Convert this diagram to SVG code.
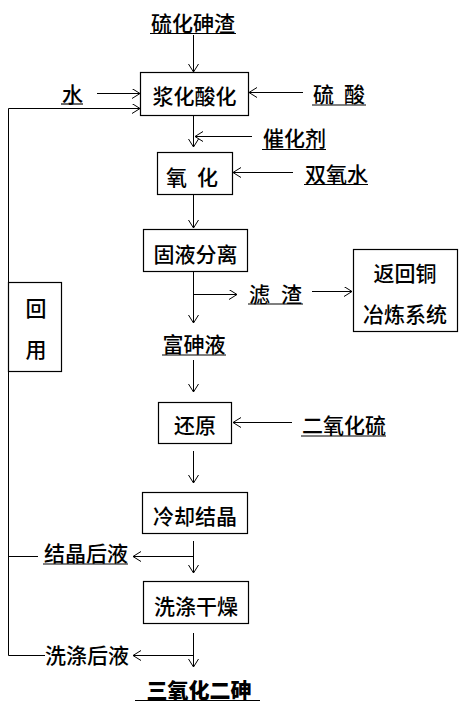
<svg xmlns="http://www.w3.org/2000/svg" width="464" height="707" viewBox="0 0 464 707">
<defs>
<marker id="ah" markerUnits="userSpaceOnUse" markerWidth="12" markerHeight="12" refX="8" refY="5" orient="auto">
<path d="M0,0 L8,5 L0,10" fill="none" stroke="#000" stroke-width="1"/>
</marker>
<style>
.t{font-family:"Noto Sans CJK SC","Noto Sans",sans-serif;font-size:21px;font-weight:500;fill:#000}
.m{text-anchor:middle}
.bold{font-weight:900}
.b{fill:#fff;stroke:#000;stroke-width:1.2}
.c{fill:none;stroke:#000;stroke-width:1}
.a{marker-end:url(#ah)}
.u{stroke:#000;stroke-width:1.2}
</style>
</defs>
<rect width="464" height="707" fill="#fff"/>
<g id="connectors">
<line class="c a" x1="193.5" y1="35" x2="193.5" y2="72"/>
<line class="c a" x1="97" y1="93.5" x2="140" y2="93.5"/>
<polyline class="c a" points="8.5,655.5 8.5,108.5 140,108.5"/>
<line class="c a" x1="303" y1="92.5" x2="249" y2="92.5"/>
<line class="c a" x1="193.5" y1="116" x2="193.5" y2="147"/>
<line class="c a" x1="252" y1="136.5" x2="195" y2="136.5"/>
<line class="c a" x1="293" y1="172.5" x2="233" y2="172.5"/>
<line class="c a" x1="193.5" y1="195" x2="193.5" y2="228"/>
<line class="c a" x1="193.5" y1="272" x2="193.5" y2="323"/>
<line class="c a" x1="193.5" y1="294.5" x2="237" y2="294.5"/>
<line class="c a" x1="312" y1="291.5" x2="352" y2="291.5"/>
<line class="c a" x1="193.5" y1="360" x2="193.5" y2="392"/>
<line class="c a" x1="292" y1="422.5" x2="233" y2="422.5"/>
<line class="c a" x1="193.5" y1="451" x2="193.5" y2="483"/>
<line class="c a" x1="193.5" y1="541" x2="193.5" y2="573"/>
<line class="c a" x1="193.5" y1="556.5" x2="133" y2="556.5"/>
<line class="c" x1="8.5" y1="556.5" x2="38" y2="556.5"/>
<line class="c a" x1="193.5" y1="633" x2="193.5" y2="667"/>
<line class="c a" x1="193.5" y1="655.5" x2="133" y2="655.5"/>
<line class="c" x1="8.5" y1="655.5" x2="45" y2="655.5"/>
</g>
<g id="n-input"><text class="t m" x="193" y="31">硫化砷渣</text><line class="u" x1="150" y1="33.5" x2="236" y2="33.5"/></g>
<g id="n-water"><text class="t" x="62" y="102">水</text><line class="u" x1="61" y1="104" x2="83" y2="104"/></g>
<g id="n-acid"><text class="t" x="313" y="102"><tspan x="313">硫</tspan><tspan x="344">酸</tspan></text><line class="u" x1="312" y1="105" x2="366" y2="105"/></g>
<g id="n-slurry"><rect class="b" x="140.5" y="72.5" width="108" height="43"/><text class="t m" x="194.5" y="104">浆化酸化</text></g>
<g id="n-catalyst"><text class="t" x="263" y="146">催化剂</text><line class="u" x1="262" y1="149.5" x2="326" y2="149.5"/></g>
<g id="n-oxid"><rect class="b" x="157.5" y="152.5" width="75" height="42"/><text class="t" x="166" y="185"><tspan x="166">氧</tspan><tspan x="197">化</tspan></text></g>
<g id="n-h2o2"><text class="t" x="305" y="182">双氧水</text><line class="u" x1="304" y1="184.5" x2="368" y2="184.5"/></g>
<g id="n-sep"><rect class="b" x="143.5" y="229.5" width="104" height="42"/><text class="t m" x="195.5" y="262">固液分离</text></g>
<g id="n-residue"><text class="t" x="249" y="302"><tspan x="249">滤</tspan><tspan x="281">渣</tspan></text><line class="u" x1="248" y1="304" x2="303" y2="304"/></g>
<g id="n-copper"><rect class="b" x="353.5" y="249.5" width="104" height="82"/><text class="t m" x="405" y="281">返回铜</text><text class="t m" x="405" y="322">冶炼系统</text></g>
<g id="n-reuse"><rect class="b" x="8.5" y="282.5" width="53" height="89"/><text class="t m" x="36" y="316">回</text><text class="t m" x="36" y="357">用</text></g>
<g id="n-rich"><text class="t m" x="194" y="352">富砷液</text><line class="u" x1="162" y1="355" x2="226" y2="355"/></g>
<g id="n-reduce"><rect class="b" x="158.5" y="402.5" width="73" height="41"/><text class="t m" x="195" y="433">还原</text></g>
<g id="n-so2"><text class="t" x="302" y="433">二氧化硫</text><line class="u" x1="301" y1="436" x2="386" y2="436"/></g>
<g id="n-cool"><rect class="b" x="142.5" y="492.5" width="105" height="41"/><text class="t m" x="195" y="524">冷却结晶</text></g>
<g id="n-mother"><text class="t" x="44" y="561">结晶后液</text><line class="u" x1="43" y1="564" x2="128" y2="564"/></g>
<g id="n-wash"><rect class="b" x="143.5" y="581.5" width="105" height="42"/><text class="t m" x="196" y="614">洗涤干燥</text></g>
<g id="n-washliq"><text class="t" x="45" y="663">洗涤后液</text></g>
<g id="n-product"><text class="t m bold" x="199" y="698">三氧化二砷</text><line class="u" x1="135" y1="700.5" x2="260" y2="700.5"/></g>
</svg>
